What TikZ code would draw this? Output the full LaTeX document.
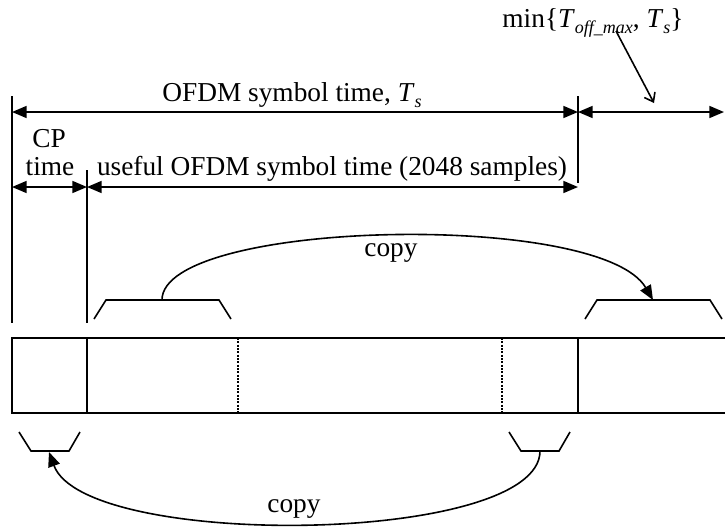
\documentclass[tikz,border=0pt]{standalone}
\usepackage{fontspec}
\setmainfont{Liberation Serif}
\usetikzlibrary{arrows.meta}

\newcommand{\lowsub}[1]{\raisebox{-0.55ex}{\fontsize{13.5}{14}\selectfont\textit{#1}}}

\tikzset{
  dimline/.style={line width=1.25pt,{Triangle[length=11pt,width=9pt]}-{Triangle[length=11pt,width=9pt]}},
  copyline/.style={line width=1.2pt,-{Triangle[length=11pt,width=9pt]}},
  openline/.style={line width=1.2pt,-{Straight Barb[length=6pt,width=9pt]}},
  tickline/.style={line width=1pt},
  bracket/.style={line width=1.2pt},
  label/.style={anchor=base,inner sep=0pt,font=\fontsize{20.5}{24}\selectfont}
}

\begin{document}
\begin{tikzpicture}[x=0.75pt,y=-0.75pt,line join=miter]
  \useasboundingbox (0,0) rectangle (725,529);
  \def\yts{112}
  \def\yuse{187}
  \def\ytop{338}
  \def\ybot{413}
  % ticks
  \coordinate (t0) at (12,\yts);
  \coordinate (t1) at (87,\yuse);
  \coordinate (t2) at (578,\yts);
  \coordinate (t3) at (724,\yts);
  \draw[tickline] (12,96) -- (12,323);
  \draw[tickline] (87,170) -- (87,323);
  \draw[tickline] (578,96) -- (578,183);
  % dimension arrows
  \draw[dimline] (t0) -- (t2);
  \draw[dimline] (t2) -- (t3);
  \draw[dimline] (12,\yuse) -- (t1);
  \draw[dimline] (t1) -- (578,\yuse);
  \node[label] (ts) at (292,101) {OFDM symbol time, \textit{T}\lowsub{s}};
  \node[label] (cp) at (49,147) {CP};
  \node[label] (cptime) at (50,175) {time};
  \node[label] (useful) at (332,175) {useful OFDM symbol time (2048 samples)};
  \node[label] (minlab) at (593,27) {min\{\textit{T}\lowsub{off\_max}, \textit{T}\lowsub{s}\}};
  \coordinate (minfrom) at (616,31);
  \coordinate (minto) at (654,103);
  \draw[openline] (minfrom) -- (minto);
  % symbol frame
  \draw[line width=2pt] (725,\ytop) -- (12,\ytop) -- (12,\ybot) -- (725,\ybot);
  \foreach \x in {87,578} {
    \draw[line width=2pt] (\x,\ytop) -- (\x,\ybot);
  }
  \foreach \x in {238,502} {
    \draw[line width=1.6pt,dash pattern=on 1.5pt off 1pt] (\x,\ytop) -- (\x,\ybot);
  }
  % brackets
  \draw[bracket] (94,319) -- (106,300) -- (219,300) -- (231,319);
  \draw[bracket] (585,319) -- (597,300) -- (710,300) -- (722,319);
  \draw[bracket] (19,432) -- (31,451) -- (69,451) -- (80,432);
  \draw[bracket] (509,432) -- (521,451) -- (559,451) -- (570,432);
  \coordinate (srcT) at (162,300);
  \coordinate (dstT) at (653,300);
  \coordinate (srcB) at (540,451);
  \coordinate (dstB) at (49,452);
  \draw[copyline] (srcT) .. controls (162,220) and (600,210) .. (dstT);
  \draw[copyline] (srcB) .. controls (540,545) and (85,550) .. (dstB);
  \node[label] (copytop) at (391,256) {copy};
  \node[label] (copybot) at (294,512) {copy};
\end{tikzpicture}
\end{document}
